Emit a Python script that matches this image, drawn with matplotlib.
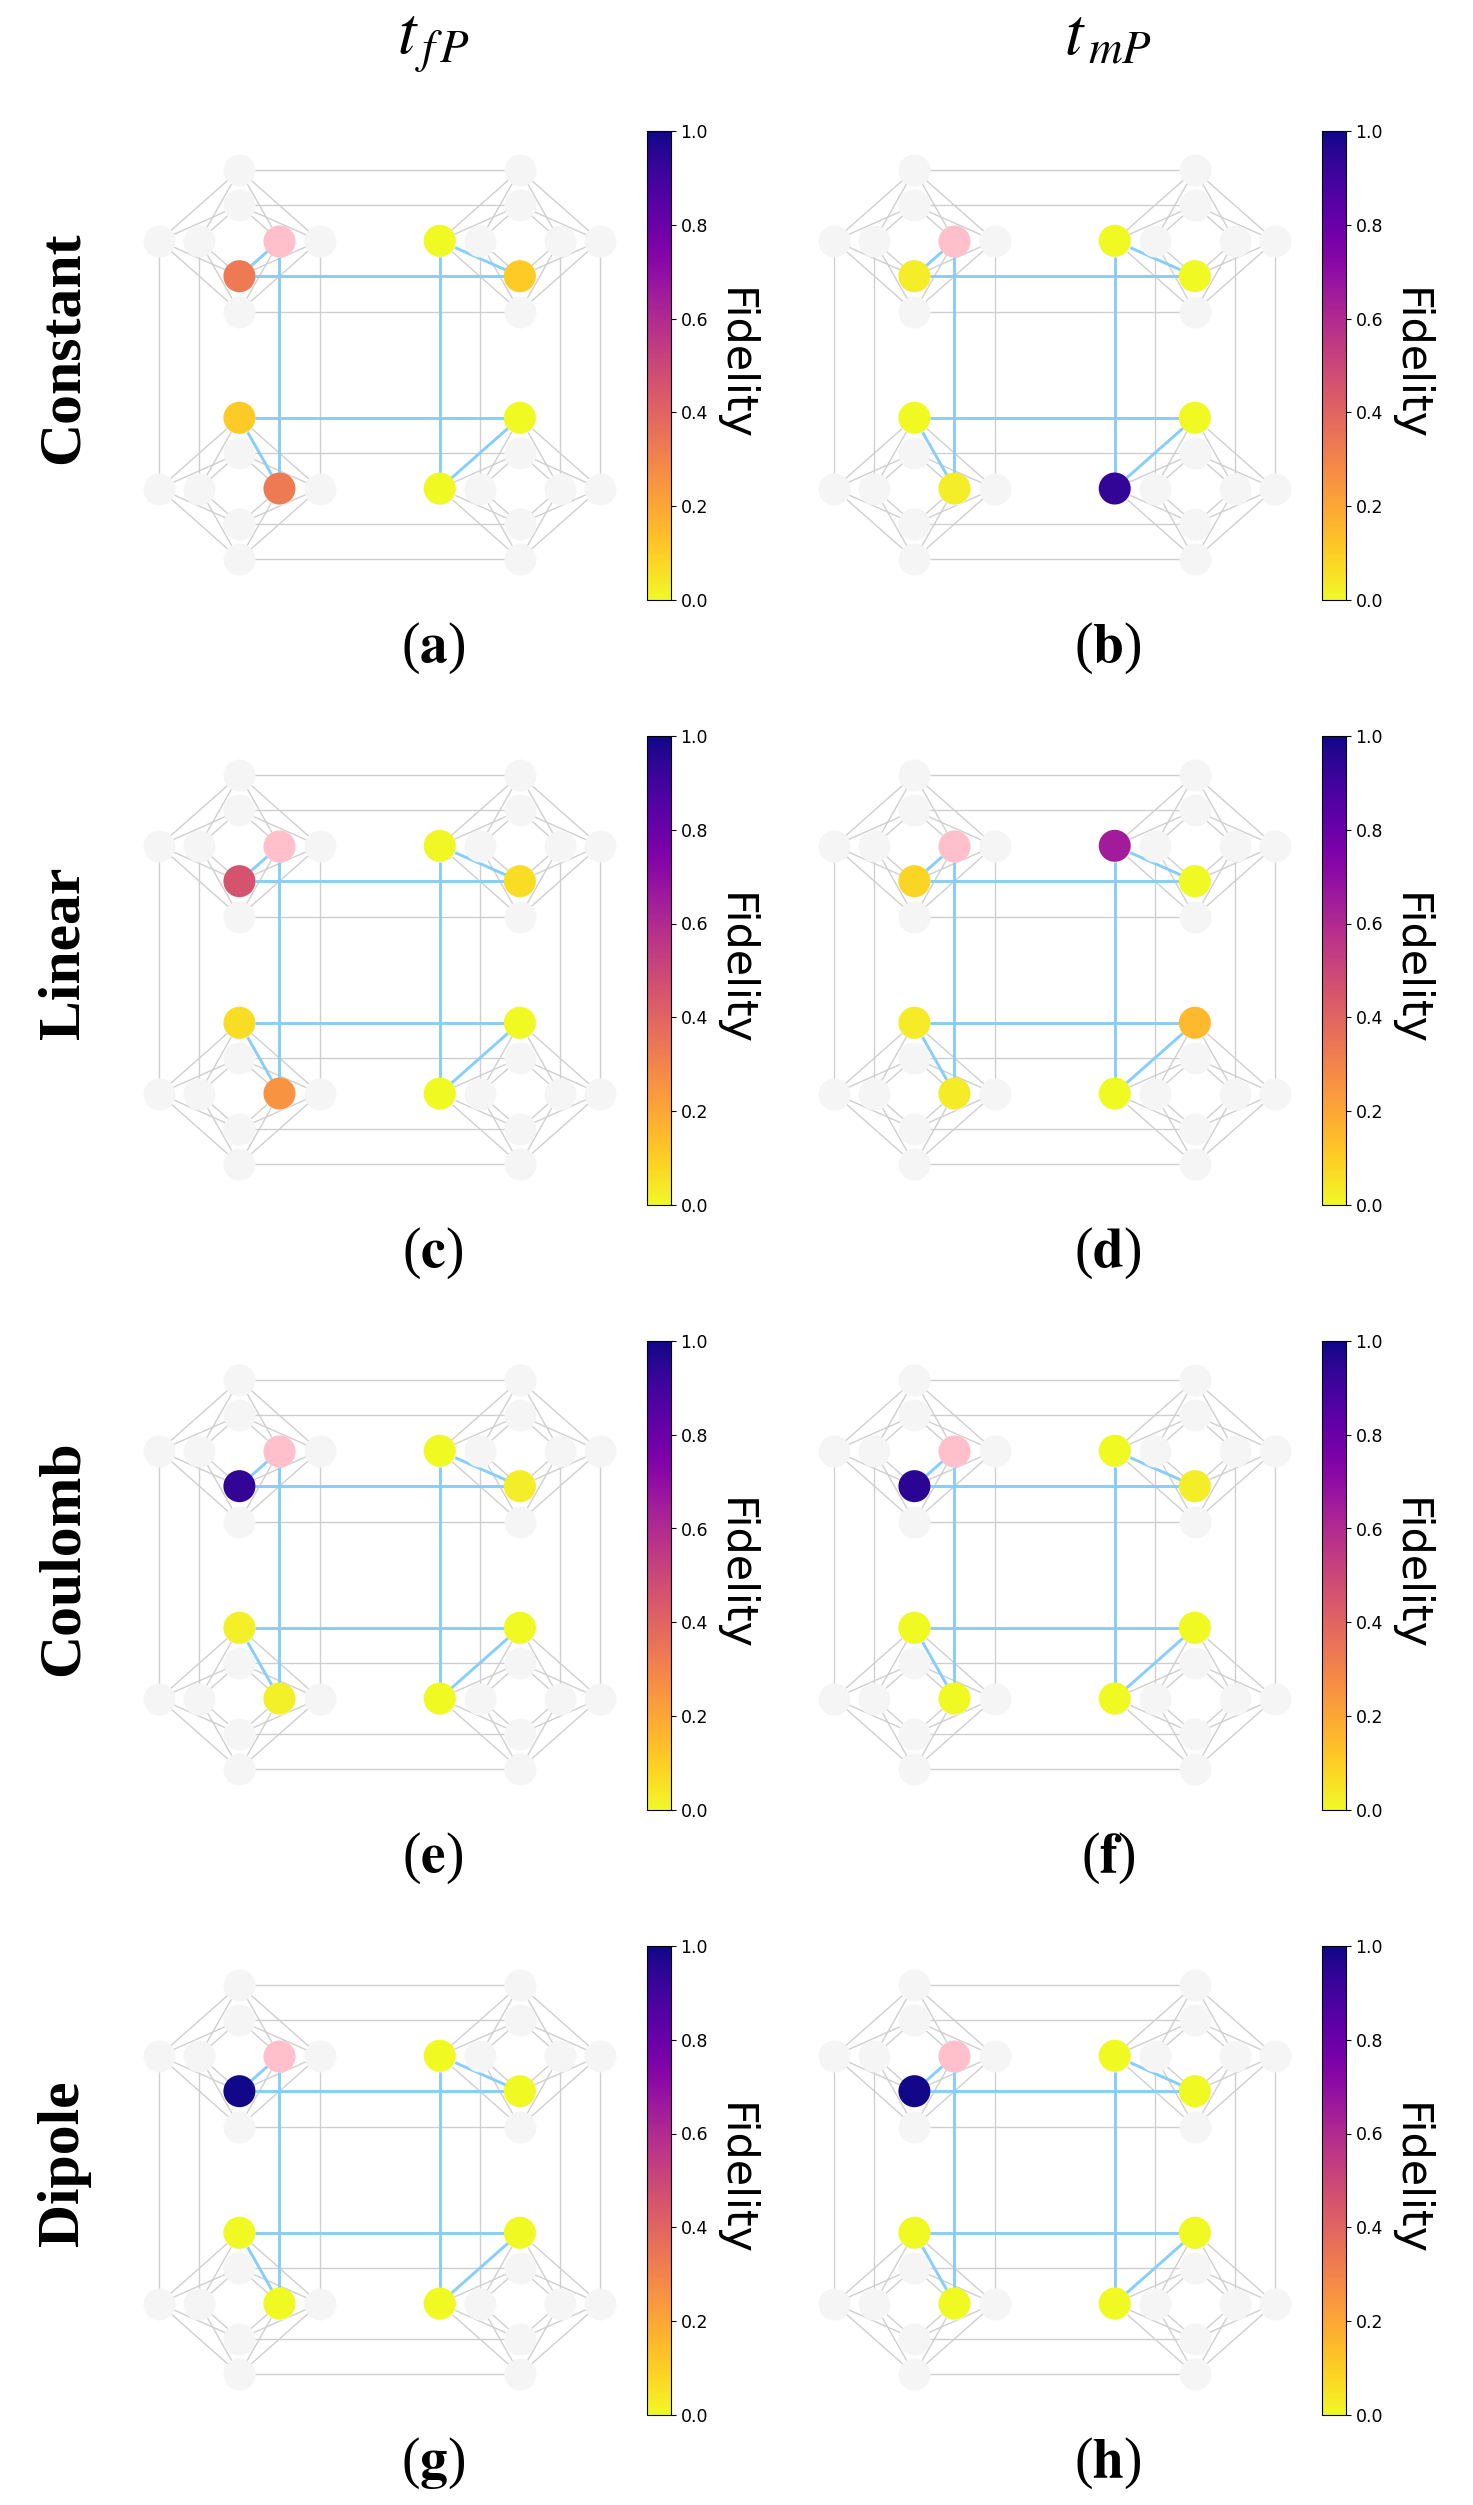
import numpy as np
import matplotlib
matplotlib.use("Agg")
import matplotlib.pyplot as plt
from matplotlib.cm import ScalarMappable
from matplotlib.colors import Normalize

W, H = 1473, 2505

# fidelity of the 7 coloured qubits, same order as cycle_nodes[1:]
fid_a = [0.33, 0.11, 0.0, 0.11, 0.33, 0.0, 0.0]
fid_b = [0.03, 0.0, 0.0, 0.0, 0.025, 0.0, 0.93]
fid_c = [0.46, 0.07, 0.005, 0.07, 0.25, 0.0, 0.0]
fid_d = [0.085, 0.0, 0.65, 0.035, 0.035, 0.15, 0.0]
fid_e = [0.93, 0.025, 0.0, 0.02, 0.02, 0.0, 0.0]
fid_f = [0.95, 0.025, 0.0, 0.0, 0.0, 0.0, 0.0]
fid_g = [0.99, 0.0, 0.0, 0.0, 0.0, 0.0, 0.0]
fid_h = [0.99, 0.0, 0.0, 0.0, 0.0, 0.0, 0.0]
fidelities = [fid_a, fid_b, fid_c, fid_d, fid_e, fid_f, fid_g, fid_h]

panel_labels = ["a", "b", "c", "d", "e", "f", "g", "h"]
row_names = ["Constant", "Linear", "Coulomb", "Dipole"]
col_names = [r"$t_{\,f\,P}$", r"$t_{\,mP}$"]
cbar_ticks = [0.0, 0.2, 0.4, 0.6, 0.8, 1.0]

# chimera layout, two unit cells per side
cell_offsets = [0, 7]
cell_spokes = [0, 1, 3, 4]
cell_centre = 2

# the 8 qubit cycle, start qubit first
cycle_nodes = [(3, 2), (2, 3), (9, 3), (7, 2), (7, 9), (9, 7), (2, 7), (3, 9)]
plot_order = [1, 2, 3, 6, 7, 5, 4]

# build nodes and edges of the graph
nodes = []
edges = []
for oy in cell_offsets:
    for ox in cell_offsets:
        horiz = [(ox + s, oy + cell_centre) for s in cell_spokes]
        vert = [(ox + cell_centre, oy + s) for s in cell_spokes]
        nodes += horiz + vert
        edges += [(a, b) for a in horiz for b in vert]
for s in cell_spokes:
    for ox in cell_offsets:
        edges.append(((ox + s, cell_centre), (ox + s, cell_offsets[1] + cell_centre)))
    for oy in cell_offsets:
        edges.append(((cell_centre, oy + s), (cell_offsets[1] + cell_centre, oy + s)))

plt.rcParams["mathtext.fontset"] = "stix"

fig = plt.figure(figsize=(W / 100, H / 100), dpi=100)
norm = Normalize(0, 1)
cmap = plt.get_cmap("plasma_r")


def px_axes(left, top, width, height):
    return fig.add_axes([left / W, 1 - (top + height) / H, width / W, height / H])


for i, fid in enumerate(fidelities):
    row, col = i // 2, i % 2
    dx, dy = col * 675, row * 605

    # 2 grid units of margin round the graph
    ax = px_axes(159.3 + dx - 2 * 40.06, 170 + dy - 2 * 35.39, 15 * 40.06, 15 * 35.39)
    ax.set_xlim(-2, 13)
    ax.set_ylim(13, -2)
    ax.axis("off")

    for a, b in edges:
        ax.plot([a[0], b[0]], [a[1], b[1]], color="#cfcfcf", lw=1.0, zorder=1)
    for j in range(len(cycle_nodes)):
        a, b = cycle_nodes[j], cycle_nodes[(j + 1) % len(cycle_nodes)]
        ax.plot([a[0], b[0]], [a[1], b[1]], color="#87CEFA", lw=2.1, zorder=2)

    nx, ny = zip(*nodes)
    ax.scatter(nx, ny, s=531, color="whitesmoke", linewidths=0, zorder=3)
    sx, sy = cycle_nodes[0]
    ax.scatter([sx], [sy], s=531, color="pink", linewidths=0, zorder=4)
    # plot_order maps the table order onto cycle_nodes
    ax_nodes = [cycle_nodes[k] for k in plot_order]
    ax.scatter([n[0] for n in ax_nodes], [n[1] for n in ax_nodes], c=fid, cmap=cmap,
               norm=norm, s=531, linewidths=0, zorder=4)

    cax = px_axes(646.7 + dx, 130.7 + dy, 24, 469.5)
    cb = fig.colorbar(ScalarMappable(norm=norm, cmap=cmap), cax=cax, ticks=cbar_ticks)
    cb.ax.tick_params(labelsize=12.5)
    fig.text((734.5 + dx) / W, 1 - (365 + dy) / H, "Fidelity", rotation=270, fontsize=31,
             ha="center", va="center")

    fig.text((433 + dx) / W, 1 - (648 + dy) / H, "($\\mathbf{%s}$)" % panel_labels[i],
             fontsize=40, family="Liberation Serif", ha="center", va="center")

for row, name in enumerate(row_names):
    fig.text(64 / W, 1 - (348 + row * 605) / H, name, rotation=90, fontsize=43,
             family="Liberation Serif", fontweight="bold", ha="center", va="center")

for col, name in enumerate(col_names):
    fig.text((433 + col * 675) / W, 1 - 54 / H, name, fontsize=48, ha="center", va="baseline")

fig.savefig("out.png", dpi=100)
